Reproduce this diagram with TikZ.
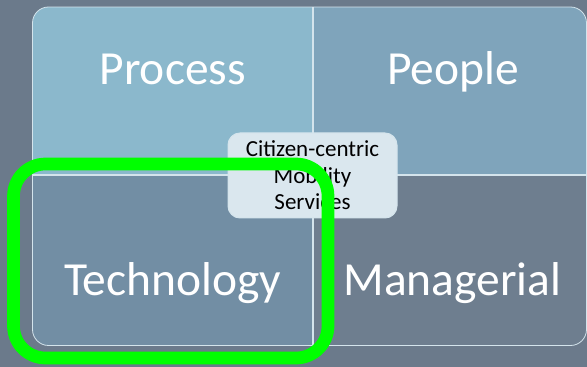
\documentclass[tikz,border=0pt]{standalone}
\usepackage{fontspec}
\setmainfont{Carlito}
\usepackage{xcolor}
\usepackage{tikz}
\usetikzlibrary{positioning}
\definecolor{BgSlate}{HTML}{6B7A8B}
\definecolor{QProcess}{HTML}{8BB8CC}
\definecolor{QPeople}{HTML}{7FA4BB}
\definecolor{QTech}{HTML}{728EA4}
\definecolor{QManager}{HTML}{6E7E8F}
\definecolor{QLine}{HTML}{D4E4EC}
\definecolor{CoreFill}{HTML}{DAE7EE}
\definecolor{GlowGreen}{HTML}{00FF00}

\begin{document}
\begin{tikzpicture}[x=1pt, y=1pt,
    quadtext/.style={text=white, anchor=base, inner sep=0pt, font=\fontsize{47.5}{50}\selectfont},
    corebox/.style={fill=CoreFill, draw=QLine, line width=1pt, rounded corners=12pt,
      minimum width=169pt, minimum height=85pt, align=center, inner sep=0pt,
      font=\fontsize{23}{26.5}\selectfont}]
  \def\L{32.5}\def\R{586.5}\def\B{21.5}\def\T{360}
  \def\X{313}\def\Y{192}
  \useasboundingbox (0,0) rectangle (587,367);
  % slate background
  \fill[BgSlate] (0,0) rectangle (587,367);
  % four quadrants inside the rounded frame
  \begin{scope}
    \clip[rounded corners=16pt] (\L,\B) rectangle (\R,\T);
    \fill[QProcess] (\L,\Y) rectangle (\X,\T);
    \fill[QPeople] (\X,\Y) rectangle (\R,\T);
    \fill[QTech] (\L,\B) rectangle (\X,\Y);
    \fill[QManager] (\X,\B) rectangle (\R,\Y);
  \end{scope}
  % dividers and outline
  \draw[QLine, line width=1.5pt] (\X,\B) -- (\X,\T);
  \draw[QLine, line width=1.5pt] (\L,\Y) -- (\R,\Y);
  \draw[QLine, line width=0.8pt, rounded corners=16pt] (\L,\B) rectangle (\R,\T);
  % quadrant labels
  \node[quadtext] (process) at (172.75,282) {Process};
  \node[quadtext] (people) at (453,282) {People};
  \node[quadtext] (technology) at (172.75,71) {Technology};
  \node[quadtext] (managerial) at (452.5,71) {Managerial};
  % centre box
  \node[corebox] (core) at (312.5,191.5) {Citizen-centric\\Mobility\\Services};
  % green highlight round the technology quadrant
  \draw[GlowGreen, line width=12.7pt, rounded corners=32pt] (13.5,9) rectangle (328,203);
\end{tikzpicture}
\end{document}
